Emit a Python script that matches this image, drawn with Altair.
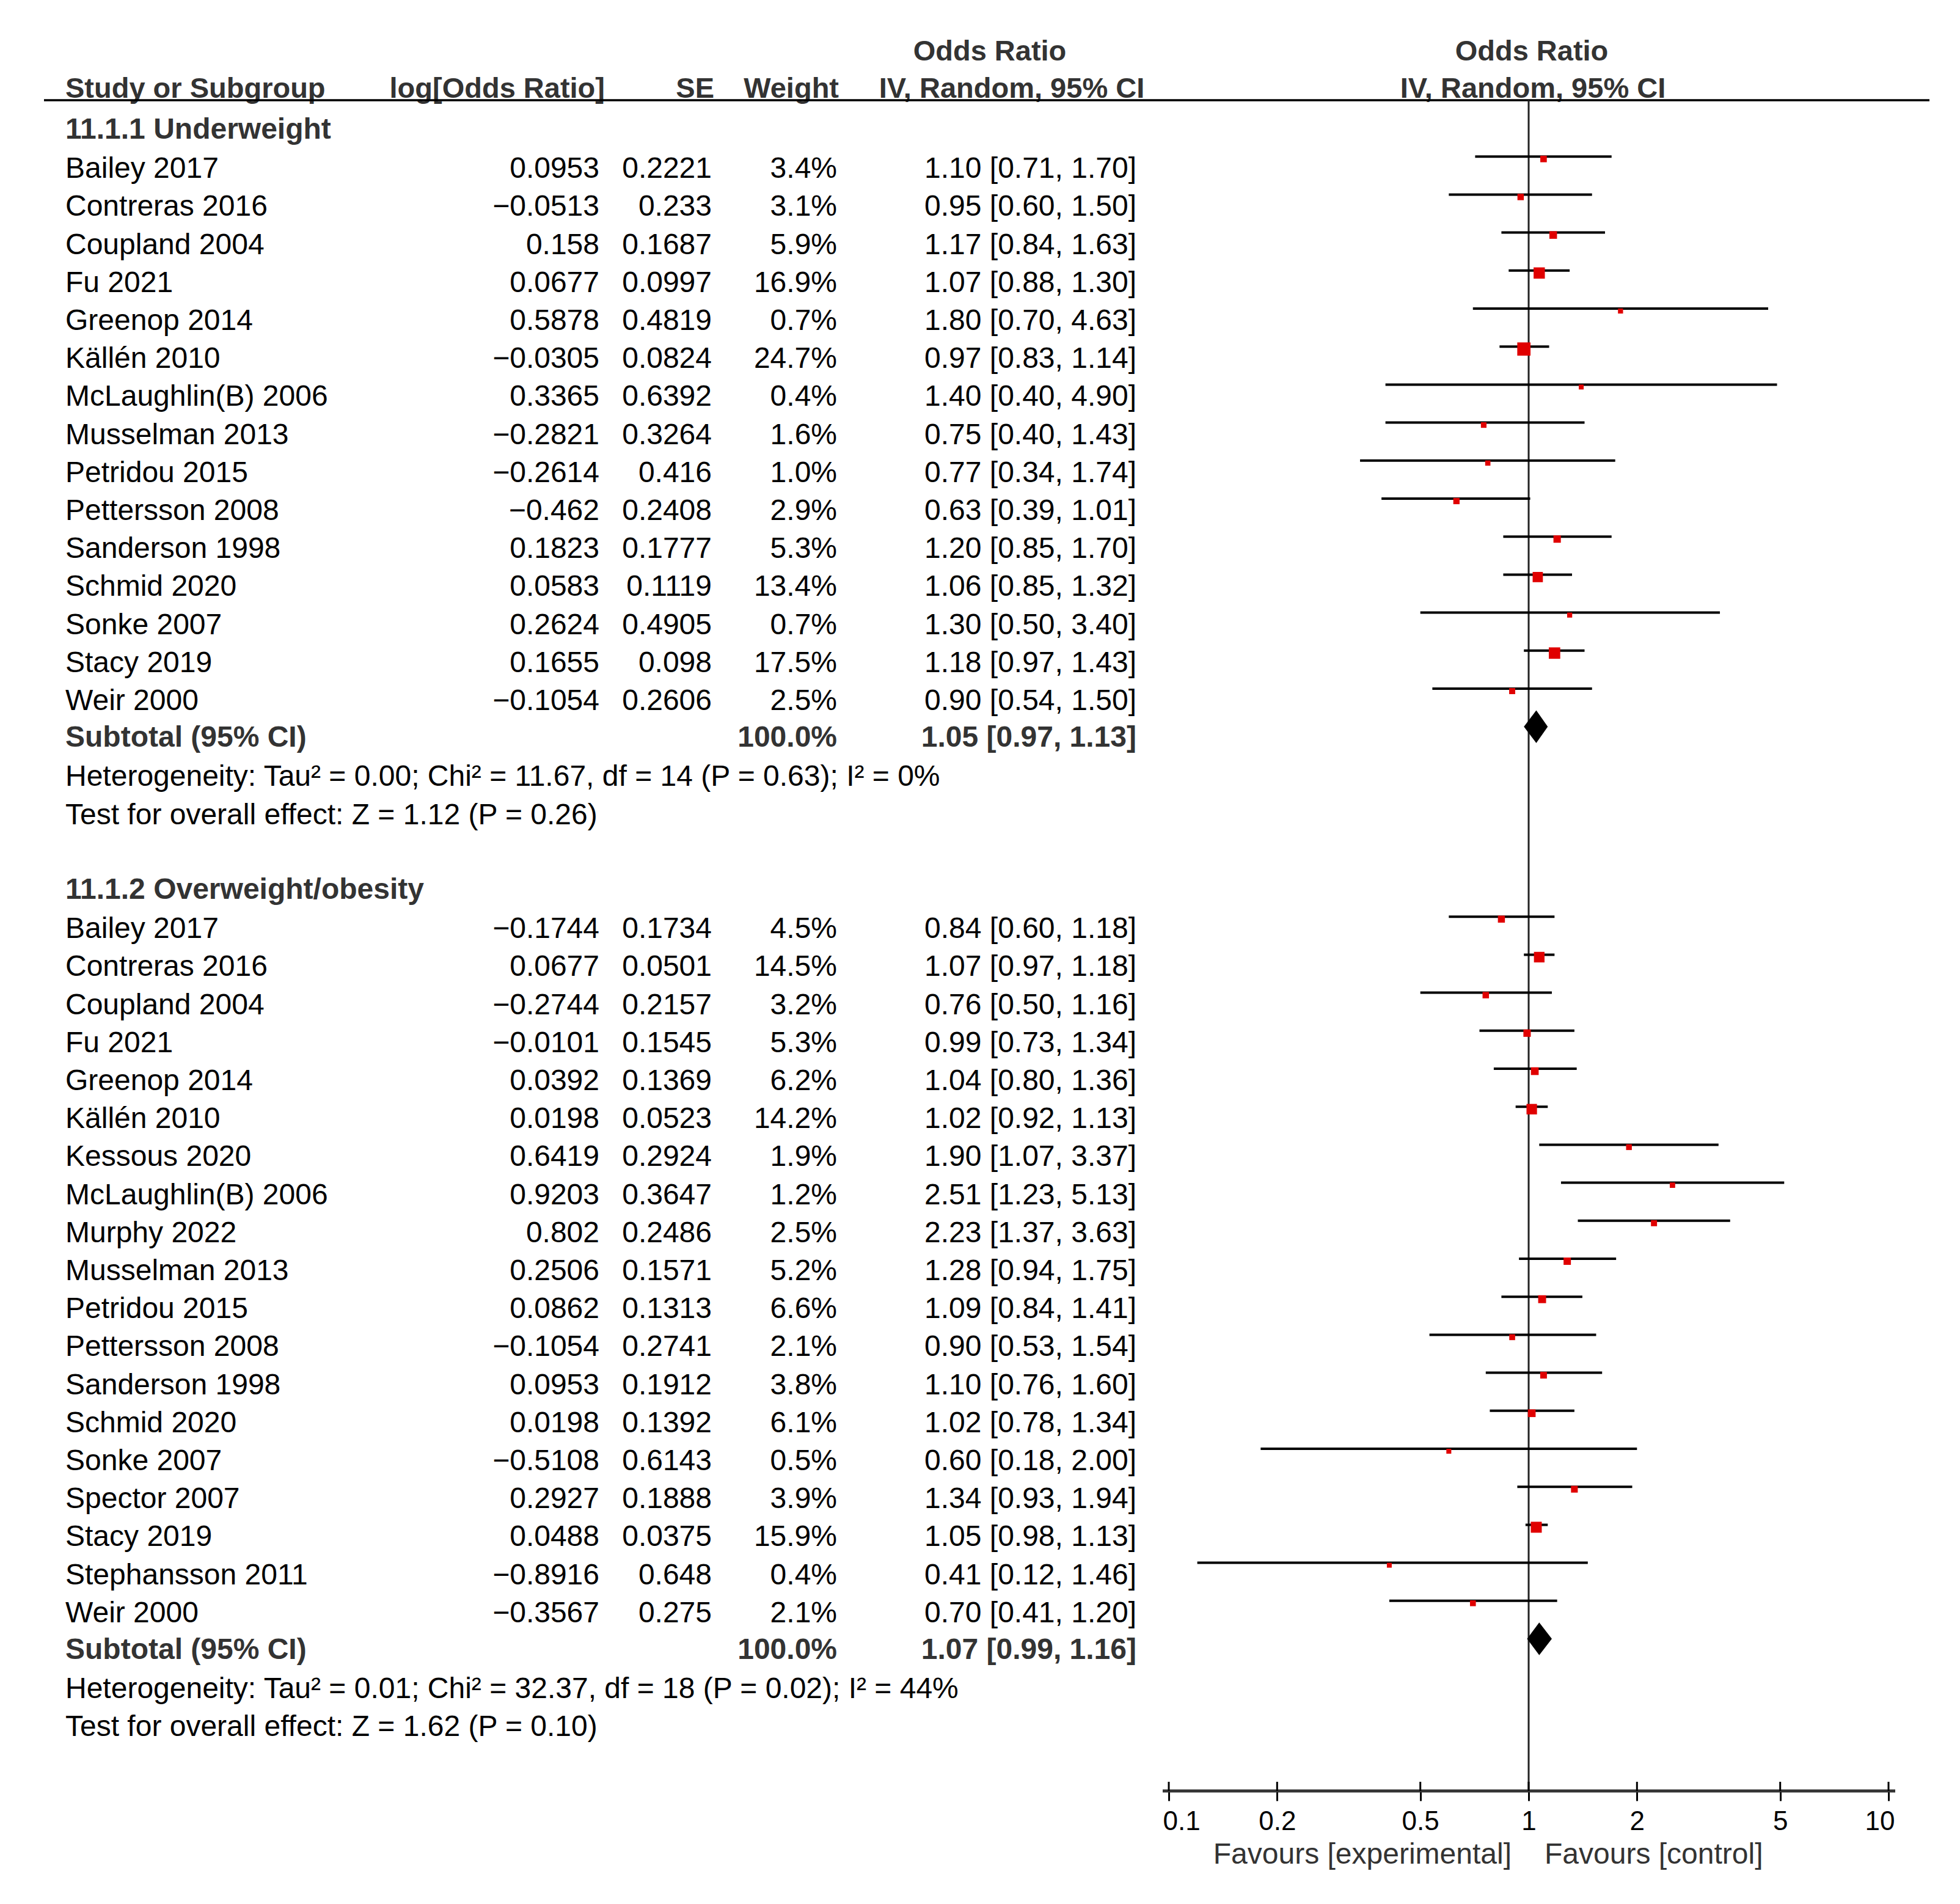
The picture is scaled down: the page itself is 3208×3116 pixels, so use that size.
import altair as alt
import pandas as pd

FONT = "Liberation Sans"

# ---------------- data ----------------
g1_title = "11.1.1 Underweight"
g1_names = ["Bailey 2017", "Contreras 2016", "Coupland 2004", "Fu 2021", "Greenop 2014",
            "Källén 2010", "McLaughlin(B) 2006", "Musselman 2013", "Petridou 2015",
            "Pettersson 2008", "Sanderson 1998", "Schmid 2020", "Sonke 2007",
            "Stacy 2019", "Weir 2000"]
g1_logor = ["0.0953", "−0.0513", "0.158", "0.0677", "0.5878", "−0.0305", "0.3365", "−0.2821",
            "−0.2614", "−0.462", "0.1823", "0.0583", "0.2624", "0.1655", "−0.1054"]
g1_se = ["0.2221", "0.233", "0.1687", "0.0997", "0.4819", "0.0824", "0.6392", "0.3264",
         "0.416", "0.2408", "0.1777", "0.1119", "0.4905", "0.098", "0.2606"]
g1_weight = [3.4, 3.1, 5.9, 16.9, 0.7, 24.7, 0.4, 1.6, 1.0, 2.9, 5.3, 13.4, 0.7, 17.5, 2.5]
g1_or = [1.10, 0.95, 1.17, 1.07, 1.80, 0.97, 1.40, 0.75, 0.77, 0.63, 1.20, 1.06, 1.30, 1.18, 0.90]
g1_lo = [0.71, 0.60, 0.84, 0.88, 0.70, 0.83, 0.40, 0.40, 0.34, 0.39, 0.85, 0.85, 0.50, 0.97, 0.54]
g1_hi = [1.70, 1.50, 1.63, 1.30, 4.63, 1.14, 4.90, 1.43, 1.74, 1.01, 1.70, 1.32, 3.40, 1.43, 1.50]
g1_sub = (1.05, 0.97, 1.13)
g1_het = "Heterogeneity: Tau² = 0.00; Chi² = 11.67, df = 14 (P = 0.63); I² = 0%"
g1_test = "Test for overall effect: Z = 1.12 (P = 0.26)"

g2_title = "11.1.2 Overweight/obesity"
g2_names = ["Bailey 2017", "Contreras 2016", "Coupland 2004", "Fu 2021", "Greenop 2014",
            "Källén 2010", "Kessous 2020", "McLaughlin(B) 2006", "Murphy 2022",
            "Musselman 2013", "Petridou 2015", "Pettersson 2008", "Sanderson 1998",
            "Schmid 2020", "Sonke 2007", "Spector 2007", "Stacy 2019",
            "Stephansson 2011", "Weir 2000"]
g2_logor = ["−0.1744", "0.0677", "−0.2744", "−0.0101", "0.0392", "0.0198", "0.6419", "0.9203",
            "0.802", "0.2506", "0.0862", "−0.1054", "0.0953", "0.0198", "−0.5108", "0.2927",
            "0.0488", "−0.8916", "−0.3567"]
g2_se = ["0.1734", "0.0501", "0.2157", "0.1545", "0.1369", "0.0523", "0.2924", "0.3647",
         "0.2486", "0.1571", "0.1313", "0.2741", "0.1912", "0.1392", "0.6143", "0.1888",
         "0.0375", "0.648", "0.275"]
g2_weight = [4.5, 14.5, 3.2, 5.3, 6.2, 14.2, 1.9, 1.2, 2.5, 5.2, 6.6, 2.1, 3.8, 6.1, 0.5, 3.9,
             15.9, 0.4, 2.1]
g2_or = [0.84, 1.07, 0.76, 0.99, 1.04, 1.02, 1.90, 2.51, 2.23, 1.28, 1.09, 0.90, 1.10, 1.02,
         0.60, 1.34, 1.05, 0.41, 0.70]
g2_lo = [0.60, 0.97, 0.50, 0.73, 0.80, 0.92, 1.07, 1.23, 1.37, 0.94, 0.84, 0.53, 0.76, 0.78,
         0.18, 0.93, 0.98, 0.12, 0.41]
g2_hi = [1.18, 1.18, 1.16, 1.34, 1.36, 1.13, 3.37, 5.13, 3.63, 1.75, 1.41, 1.54, 1.60, 1.34,
         2.00, 1.94, 1.13, 1.46, 1.20]
g2_sub = (1.07, 0.99, 1.16)
g2_het = "Heterogeneity: Tau² = 0.01; Chi² = 32.37, df = 18 (P = 0.02); I² = 44%"
g2_test = "Test for overall effect: Z = 1.62 (P = 0.10)"

axis_ticks = [0.1, 0.2, 0.5, 1, 2, 5, 10]
null_value = [1]
favours_left = "Favours [experimental]"
favours_right = "Favours [control]"

groups = [
    (g1_title, g1_names, g1_logor, g1_se, g1_weight, g1_or, g1_lo, g1_hi, g1_sub, g1_het, g1_test),
    (g2_title, g2_names, g2_logor, g2_se, g2_weight, g2_or, g2_lo, g2_hi, g2_sub, g2_het, g2_test),
]

# ---------------- tables built from the arrays ----------------
def ci_text(e, l, h):
    return f"{e:.2f} [{l:.2f}, {h:.2f}]"

H_D = 0.43  # half height of the subtotal diamond, in rows
tbl, studies, diam = [], [], []
r = 0
for gi, (title, names, lor, se, wt, est, lo, hi, sub, het, test) in enumerate(groups):
    tbl.append(dict(row=r, name=title, logor="", se="", wt="", ci="", bold=True))
    r += 1
    for i in range(len(names)):
        tbl.append(dict(row=r, name=names[i], logor=lor[i], se=se[i], wt=f"{wt[i]:.1f}%",
                        ci=ci_text(est[i], lo[i], hi[i]), bold=False))
        studies.append(dict(row=r, est=est[i], lo=lo[i], hi=hi[i], w=wt[i]))
        r += 1
    tbl.append(dict(row=r, name="Subtotal (95% CI)", logor="", se="", wt="100.0%",
                    ci=ci_text(*sub), bold=True))
    for x, dy in ((sub[1], 0.0), (sub[0], H_D), (sub[2], 0.0)):
        diam.append(dict(g=gi, x=x, y=r - dy, y2=r + dy))
    r += 1
    tbl.append(dict(row=r, name=het, logor="", se="", wt="", ci="", bold=False))
    r += 1
    tbl.append(dict(row=r, name=test, logor="", se="", wt="", ci="", bold=False))
    r += 2

tbl = pd.DataFrame(tbl)
studies = pd.DataFrame(studies)
diam = pd.DataFrame(diam)
axis_span = pd.DataFrame({"lo": [min(axis_ticks)], "hi": [max(axis_ticks)]})

# ---------------- layout ----------------
W, H = 3192, 2923
ROW0, ROWH = 204.0, 62.2
yscale = alt.Scale(domain=[-ROW0 / ROWH, (H - ROW0) / ROWH], range=[0, H], nice=False, zero=False)
xscale = alt.Scale(type="log", domain=[0.1, 10], range=[1905, 3083], nice=False)
xaxis = alt.Axis(values=axis_ticks, format="~g", labelFlush=True, labelFlushOffset=10,
                 labelFont=FONT, labelFontSize=44, labelColor="black", labelPadding=12,
                 domain=False, tickColor="black", tickWidth=3,
                 tickSize=16, grid=False, title=None)
LINE_OFF = -18

Y = alt.Y("row:Q", scale=yscale, axis=None)

layers = []

# table text
cols = [("name", 99, "left"), ("logor", 973, "right"), ("se", 1157, "right"),
        ("wt", 1362, "right"), ("ci", 1852, "right")]
for field, xp, al in cols:
    for bold in (False, True):
        layers.append(
            alt.Chart(tbl).transform_filter(
                "datum.bold" if bold else "!datum.bold"
            ).mark_text(
                align=al, baseline="alphabetic", font=FONT, fontSize=48,
                fontWeight="bold" if bold else "normal",
                color="#333333" if bold else "black", dy=15 if bold else 17,
            ).encode(x=alt.value(xp), y=Y, text=f"{field}:N")
        )

# column headers
headers = [("Odds Ratio", 1612, "center", 91), ("Odds Ratio", 2499, "center", 91),
           ("Study or Subgroup", 99, "left", 152), ("log[Odds Ratio]", 982, "right", 152),
           ("SE", 1161, "right", 152), ("Weight", 1365, "right", 152),
           ("IV, Random, 95% CI", 1648, "center", 152), ("IV, Random, 95% CI", 2501, "center", 152)]
for t, xp, al, yp in headers:
    layers.append(
        alt.Chart(pd.DataFrame({"t": [t]})).mark_text(
            align=al, baseline="alphabetic", font=FONT, fontSize=47, fontWeight="bold",
            color="#333333",
        ).encode(x=alt.value(xp), y=alt.value(yp), text="t:N")
    )

# header rule
layers.append(
    alt.Chart(pd.DataFrame({"t": [0]})).mark_rule(color="black", strokeWidth=3.5).encode(
        x=alt.value(64), x2=alt.value(3150), y=alt.value(156))
)

# line of no effect
layers.append(
    alt.Chart(pd.DataFrame({"v": null_value})).mark_rule(color="#222222", strokeWidth=3).encode(
        x=alt.X("v:Q", scale=xscale, axis=xaxis), y=alt.value(156), y2=alt.value(H))
)

# axis line (slightly overhanging the end ticks, as in RevMan)
layers.append(
    alt.Chart(axis_span).mark_rule(color="#333333", strokeWidth=5, xOffset=-10, x2Offset=11).encode(
        x=alt.X("lo:Q", scale=xscale, axis=xaxis), x2="hi:Q", y=alt.value(H))
)

# upper halves of axis ticks
layers.append(
    alt.Chart(pd.DataFrame({"v": axis_ticks})).mark_rule(color="black", strokeWidth=3).encode(
        x=alt.X("v:Q", scale=xscale, axis=xaxis), y=alt.value(H - 15), y2=alt.value(H))
)

# confidence intervals
layers.append(
    alt.Chart(studies).mark_rule(color="black", strokeWidth=4, yOffset=LINE_OFF).encode(
        x=alt.X("lo:Q", scale=xscale, axis=xaxis), x2="hi:Q", y=Y)
)

# weighted squares
layers.append(
    alt.Chart(studies).mark_square(color="#E00000", opacity=1, yOffset=LINE_OFF + 4).encode(
        x=alt.X("est:Q", scale=xscale, axis=xaxis), y=Y,
        size=alt.Size("w:Q", scale=alt.Scale(domain=[0, 25], range=[57, 475]), legend=None))
)

# subtotal diamonds
layers.append(
    alt.Chart(diam).mark_area(color="black", orient="vertical", yOffset=LINE_OFF,
                              y2Offset=LINE_OFF).encode(
        x=alt.X("x:Q", scale=xscale, axis=xaxis),
        y=alt.Y("y:Q", scale=yscale, axis=None), y2="y2:Q", detail="g:N")
)

# favours labels
layers.append(
    alt.Chart(pd.DataFrame({"v": null_value, "t": [favours_left]})).mark_text(
        align="right", baseline="alphabetic", font=FONT, fontSize=48, color="#333333", dx=-28,
    ).encode(x=alt.X("v:Q", scale=xscale, axis=xaxis), y=alt.value(3042), text="t:N")
)
layers.append(
    alt.Chart(pd.DataFrame({"v": null_value, "t": [favours_right]})).mark_text(
        align="left", baseline="alphabetic", font=FONT, fontSize=48, color="#333333", dx=26,
    ).encode(x=alt.X("v:Q", scale=xscale, axis=xaxis), y=alt.value(3042), text="t:N")
)

chart = alt.layer(*layers).properties(
    width=W, height=H, padding=0, background="white"
).configure_view(stroke=None)

chart.save("out.html", embed_options={"renderer": "svg", "actions": False})
